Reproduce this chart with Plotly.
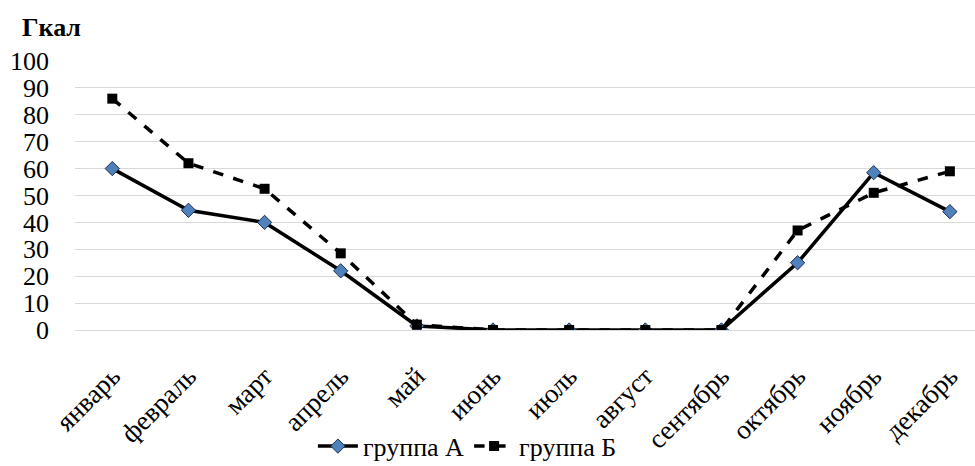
import plotly.graph_objects as go

months = ["январь", "февраль", "март", "апрель", "май", "июнь", "июль",
          "август", "сентябрь", "октябрь", "ноябрь", "декабрь"]
group_a = [60, 44.5, 40, 22, 1.5, 0, 0, 0, 0, 25, 58.5, 44]
group_b = [86, 62, 52.5, 28.5, 2, 0, 0, 0, 0, 37, 51, 59]
y_ticks = list(range(0, 101, 10))

FONT = "Liberation Serif"

fig = go.Figure()
fig.add_trace(go.Scatter(
    x=months, y=group_a, name="группа А", mode="lines+markers",
    line=dict(color="black", width=3.5),
    marker=dict(symbol="diamond", size=11, color="#4F81BD",
                line=dict(color="#1f2f4a", width=1)),
))
fig.add_trace(go.Scatter(
    x=months, y=group_b, name="группа Б", mode="lines+markers",
    line=dict(color="black", width=3.5, dash="dash"),
    marker=dict(symbol="square", size=10, color="black"),
))

fig.update_layout(
    width=975, height=466,
    margin=dict(l=75, r=0, t=61, b=136, autoexpand=False),
    plot_bgcolor="white", paper_bgcolor="white",
    font=dict(family=FONT, color="black", size=26),
    showlegend=True,
    legend=dict(orientation="h", x=0.436, xanchor="center", y=-0.432,
                yanchor="middle", font=dict(size=26, family=FONT),
                bgcolor="rgba(0,0,0,0)", itemwidth=40, tracegroupgap=0),
    xaxis=dict(
        type="category", range=[-0.49, 11.33], automargin=False,
        tickangle=-45, tickfont=dict(size=27, family=FONT),
        showgrid=False, showline=False, ticks="",
        ticklabelstandoff=24,
    ),
    yaxis=dict(
        range=[0, 100], tickvals=y_ticks, automargin=False,
        showgrid=True, gridcolor="#d9d9d9", gridwidth=1,
        zeroline=True, zerolinecolor="#d9d9d9", zerolinewidth=1,
        showline=False, ticks="",
        tickfont=dict(size=26, family=FONT),
        ticklabelstandoff=25,
    ),
    annotations=[dict(
        text="<b>Гкал</b>", xref="paper", yref="paper",
        x=-0.061, y=1.126, xanchor="left", yanchor="middle",
        showarrow=False, font=dict(size=26, family=FONT),
    )],
)

fig.write_html("out.html")
